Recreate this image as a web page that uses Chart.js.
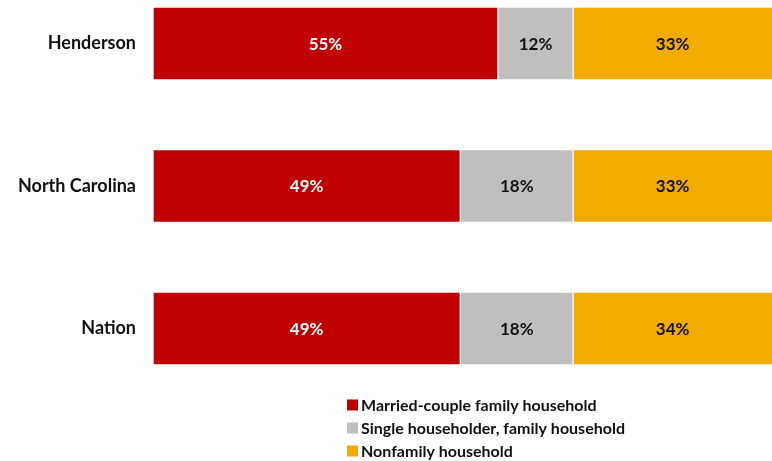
<!DOCTYPE html>
<html>
<head>
<meta charset="utf-8">
<script src="https://cdn.jsdelivr.net/npm/chart.js@4"></script>
<style>
  html, body { margin: 0; padding: 0; background: #ffffff; }
  #wrap { width: 772px; height: 461px; position: relative; }
</style>
</head>
<body>
<div id="wrap"><canvas id="c"></canvas></div>
<script>
const categories = ['Henderson', 'North Carolina', 'Nation'];
const seriesNames = ['Married-couple family household', 'Single householder, family household', 'Nonfamily household'];
const marriedCouple = [55, 49, 49];
const singleHouseholder = [12, 18, 18];
const nonfamily = [33, 33, 34];
const seriesColors = ['#C00000', '#BFBFBF', '#F2AB00'];
const labelColors = ['#FFFFFF', '#111111', '#111111'];

const FONT = 'Lato, "Open Sans", "Liberation Sans", sans-serif';

const valueLabels = {
  id: 'valueLabels',
  afterDatasetsDraw(chart) {
    const ctx = chart.ctx;
    const area = chart.chartArea;
    ctx.save();
    ctx.font = 'bold 17px ' + FONT;
    ctx.textAlign = 'center';
    ctx.textBaseline = 'middle';
    chart.data.datasets.forEach((ds, di) => {
      const meta = chart.getDatasetMeta(di);
      meta.data.forEach((bar, i) => {
        const left = Math.max(Math.min(bar.x, bar.base), area.left);
        const right = Math.min(Math.max(bar.x, bar.base), area.right);
        ctx.fillStyle = labelColors[di];
        ctx.fillText(Math.round(ds.data[i]) + '%', (left + right) / 2, bar.y + 1);
      });
    });
    ctx.restore();
  }
};

const stackedLegend = {
  id: 'stackedLegend',
  afterDraw(chart) {
    const ctx = chart.ctx;
    ctx.save();
    ctx.font = 'bold 16px ' + FONT;
    ctx.textAlign = 'left';
    ctx.textBaseline = 'middle';
    const x0 = 347, y0 = 405, gap = 23, box = 11;
    chart.data.datasets.forEach((ds, di) => {
      const y = y0 + di * gap;
      ctx.fillStyle = ds.backgroundColor;
      ctx.fillRect(x0, y - box / 2, box, box);
      ctx.fillStyle = '#111111';
      ctx.fillText(ds.label, x0 + 14, y + 1);
    });
    ctx.restore();
  }
};

const seriesData = [marriedCouple, singleHouseholder, nonfamily];

new Chart(document.getElementById('c'), {
  type: 'bar',
  data: {
    labels: categories,
    datasets: seriesNames.map((name, i) => ({
      label: name,
      data: seriesData[i],
      backgroundColor: seriesColors[i],
      borderColor: 'rgba(255,255,255,0.6)',
      borderWidth: 1,
      borderSkipped: false,
      barThickness: 73,
      clip: false
    }))
  },
  options: {
    indexAxis: 'y',
    responsive: true,
    maintainAspectRatio: false,
    animation: false,
    layout: { padding: { top: 43.5, bottom: 132.5, left: 0, right: 0 } },
    plugins: {
      legend: { display: false },
      tooltip: { enabled: false }
    },
    scales: {
      x: {
        stacked: true,
        display: false,
        min: 0,
        max: 98.7
      },
      y: {
        stacked: true,
        offset: false,
        grid: { display: false, drawTicks: false },
        border: { display: false },
        ticks: {
          padding: 17,
          color: '#111111',
          font: { family: FONT, size: 18, weight: 'bold' }
        },
        afterFit(scale) { scale.width = 153; }
      }
    }
  },
  plugins: [valueLabels, stackedLegend]
});
</script>
</body>
</html>
